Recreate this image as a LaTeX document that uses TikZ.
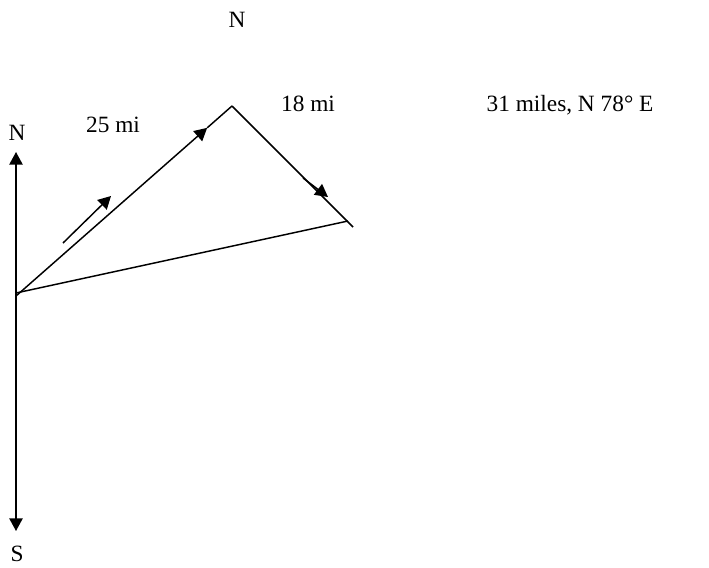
\documentclass[tikz,border=0pt]{standalone}
\usepackage{fontspec}
\setmainfont{Liberation Serif}
\usetikzlibrary{arrows.meta,calc}

\tikzset{
  leg/.style={line width=1.1pt},
  arr/.style={line width=1.1pt,-{Triangle[length=9.5pt,width=10pt]}},
  lbl/.style={font=\fontsize{17.5}{21}\selectfont,inner sep=0pt}
}

\begin{document}
\begin{tikzpicture}[x=0.75pt,y=-0.75pt]
            \useasboundingbox (0,0) rectangle (709,567);
            % compass axis
            \coordinate (O) at (16,296);
            \coordinate (Ntip) at (16,152);
            \coordinate (Stip) at (16,531);
            \draw[arr] (O) -- (Ntip);
            \draw[arr] (O) -- (Stip);
            \node[lbl] (nlbl) at (17,133) {N};
            \node[lbl] (slbl) at (17,554) {S};
            \node[lbl] (ntop) at (237,20) {N};
            % the two legs
            \coordinate (P) at (232,106);
            \coordinate (E) at (353,227);
            \coordinate (R) at (348,221);
            \draw[arr] (O) -- ($(O)!0.885!(P)$);
            \draw[leg] ($(O)!0.885!(P)$) -- (P);
            \draw[leg] (P) -- (E);
            \draw[arr] (63,243) -- (111,196);
            \draw[arr] (303,178) -- (328,197);
            % resultant
            \draw[leg] (16,293) -- (R);
            \node[lbl] (first) at (113,125) {25 mi};
            \node[lbl] (second) at (308,104) {18 mi};
            \node[lbl] (result) at (570,105) {31 miles, N 78° E};
        \end{tikzpicture}
\end{document}
